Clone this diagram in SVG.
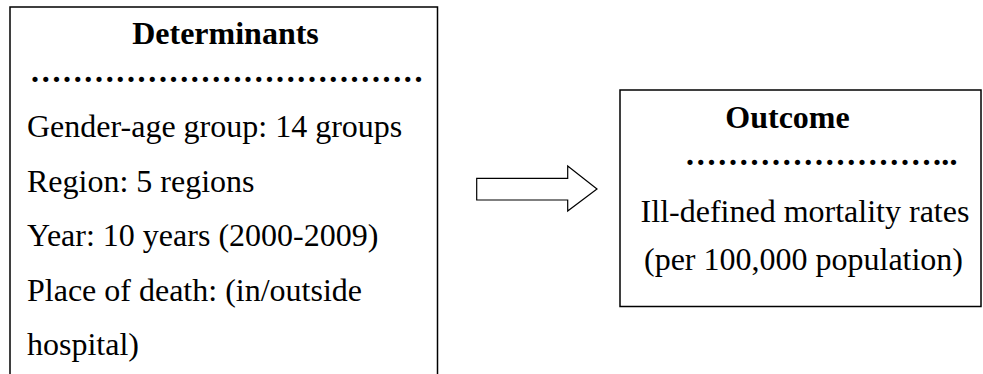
<svg xmlns="http://www.w3.org/2000/svg" width="983" height="374" viewBox="0 0 983 374">
<style>
.box{fill:#fff;stroke:#000;stroke-width:1.5}
.t{font-family:"Liberation Serif","Times New Roman",serif;font-size:32px;fill:#000}
.b{font-weight:bold}
.d{font-family:"Liberation Serif","Times New Roman",serif;font-size:32px;font-weight:bold;fill:#000}
.arrow{fill:#fff;stroke:#000;stroke-width:1.2;stroke-linejoin:miter}
</style>
<rect width="983" height="374" fill="#fff"/>
<g id="determinants">
<rect class="box" x="10" y="7" width="427.5" height="380"/>
<text class="t b" x="225.5" y="44" text-anchor="middle">Determinants</text>
<text class="d" y="82" x="31.1 41.75 52.4 63.05 73.7 84.35 95 105.65 116.3 126.95 137.6 148.25 158.9 169.55 180.2 190.85 201.5 212.15 222.8 233.45 244.1 254.75 265.4 276.05 286.7 297.35 308 318.65 329.3 339.95 350.6 361.25 371.9 382.55 393.2 403.85 414.5">.....................................</text>
<text class="t" x="27" y="137">Gender-age group: 14 groups</text>
<text class="t" x="27" y="191.5">Region: 5 regions</text>
<text class="t" x="27" y="245.5">Year: 10 years (2000-2009)</text>
<text class="t" x="27" y="301">Place of death: (in/outside</text>
<text class="t" x="27" y="355">hospital)</text>
</g>
<g id="connectors">
<polygon class="arrow" points="476.7,178.3 567.7,178.3 567.7,166 597,189 567.7,211 567.7,200 476.7,200"/>
</g>
<g id="outcome">
<rect class="box" x="620" y="90" width="361" height="216.5"/>
<text class="t b" x="787.5" y="128" text-anchor="middle">Outcome</text>
<text class="d" y="165" x="686.1 696.84 707.58 718.32 729.06 739.8 750.54 761.28 772.02 782.76 793.5 804.24 814.98 825.72 836.46 847.2 857.94 868.68 879.42 890.16 900.9 911.64 922.38 933.12 941.3 949.4">..........................</text>
<text class="t" x="805" y="221.5" text-anchor="middle">Ill-defined mortality rates</text>
<text class="t" x="803.5" y="270" text-anchor="middle">(per 100,000 population)</text>
</g>
</svg>
